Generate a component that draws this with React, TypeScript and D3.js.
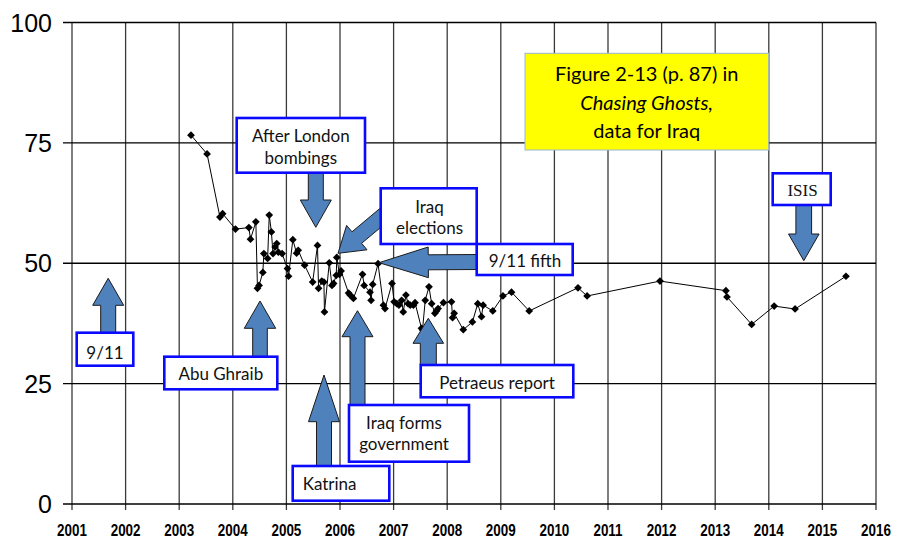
import React from "react";
import * as d3 from "d3";

// ---- data ----
const years = [
  2003.22, 2003.52, 2003.76, 2003.81, 2004.05, 2004.30, 2004.33, 2004.43, 2004.46, 2004.49,
  2004.56, 2004.58, 2004.65, 2004.68, 2004.72, 2004.75, 2004.79, 2004.82, 2004.85, 2004.92,
  2005.02, 2005.04, 2005.12, 2005.19, 2005.22, 2005.34, 2005.49, 2005.58, 2005.60, 2005.66,
  2005.70, 2005.71, 2005.80, 2005.85, 2005.88, 2005.93, 2005.94, 2005.99, 2006.02, 2006.16,
  2006.19, 2006.25, 2006.42, 2006.45, 2006.56, 2006.58, 2006.61, 2006.71, 2006.81, 2006.84,
  2006.97, 2007.01, 2007.06, 2007.10, 2007.15, 2007.18, 2007.23, 2007.27, 2007.31, 2007.37,
  2007.40, 2007.52, 2007.54, 2007.59, 2007.66, 2007.71, 2007.77, 2007.80, 2007.83, 2007.93,
  2008.08, 2008.10, 2008.13, 2008.30, 2008.47, 2008.57, 2008.64, 2008.67, 2008.85, 2009.04,
  2009.20, 2009.53, 2010.44, 2010.61, 2011.97, 2013.20, 2013.22, 2013.68, 2014.10, 2014.49,
  2015.44,
];
const values = [
  76.6, 72.7, 59.6, 60.3, 57.1, 57.4, 55.0, 58.6, 44.8, 45.4,
  48.1, 52.0, 51.0, 60.0, 56.5, 52.0, 53.4, 54.1, 52.3, 52.0,
  48.9, 47.3, 54.9, 52.1, 52.7, 49.6, 46.1, 53.7, 44.8, 46.3,
  46.1, 39.9, 50.1, 45.4, 45.8, 47.5, 51.2, 47.7, 48.4, 43.8,
  43.4, 42.7, 47.7, 45.4, 44.0, 42.3, 45.6, 49.9, 41.3, 40.6,
  45.8, 42.0, 41.6, 41.3, 42.3, 39.9, 43.4, 41.6, 41.3, 41.3,
  41.8, 36.5, 36.2, 42.3, 45.1, 41.6, 39.6, 40.1, 40.6, 41.8,
  42.0, 38.7, 39.6, 36.2, 37.8, 41.6, 38.9, 41.3, 40.1, 43.2,
  44.0, 40.1, 44.9, 43.2, 46.3, 44.3, 43.0, 37.3, 41.1, 40.5,
  47.3,
];
const xTicks = [2001, 2002, 2003, 2004, 2005, 2006, 2007, 2008, 2009, 2010, 2011, 2012, 2013, 2014, 2015, 2016];
const yTicks = [0, 25, 50, 75, 100];

const W = 898;
const H = 544;
const x = d3.scaleLinear().domain([2001, 2016]).range([72, 876]);
const y = d3.scaleLinear().domain([0, 100]).range([504, 22.5]);

const boxFont = "Lato, 'Open Sans', sans-serif";

function blockArrow(tx: number, ty: number, px: number, py: number, shaftW: number, headW: number, headL: number) {
  // tail (tx,ty) to tip (px,py)
  const dx = px - tx, dy = py - ty;
  const len = Math.hypot(dx, dy);
  const ux = dx / len, uy = dy / len;
  const nx = -uy, ny = ux;
  const bx = px - ux * headL, by = py - uy * headL;
  const pts = [
    [tx + nx * shaftW / 2, ty + ny * shaftW / 2],
    [bx + nx * shaftW / 2, by + ny * shaftW / 2],
    [bx + nx * headW / 2, by + ny * headW / 2],
    [px, py],
    [bx - nx * headW / 2, by - ny * headW / 2],
    [bx - nx * shaftW / 2, by - ny * shaftW / 2],
    [tx - nx * shaftW / 2, ty - ny * shaftW / 2],
  ];
  return "M" + pts.map((p) => p[0].toFixed(1) + "," + p[1].toFixed(1)).join("L") + "Z";
}

const arrows = [
  { t: [108.2, 333], p: [108.2, 278.3], s: 15, hw: 31, hl: 27 },
  { t: [260, 357], p: [260, 301], s: 14.6, hw: 31.4, hl: 27.3 },
  { t: [324, 466], p: [324, 375], s: 15, hw: 31, hl: 46.7 },
  { t: [357.5, 405], p: [357.5, 310.7], s: 15, hw: 31, hl: 26 },
  { t: [428.3, 365], p: [428.3, 318.3], s: 16, hw: 30.6, hl: 25 },
  { t: [315.8, 172], p: [315.8, 227.3], s: 15, hw: 31, hl: 27.3 },
  { t: [388, 211.5], p: [338, 253.3], s: 15, hw: 31.8, hl: 24.5 },
  { t: [477, 262], p: [379, 262.7], s: 15, hw: 30.7, hl: 49.3 },
  { t: [803.8, 205], p: [803.8, 260.7], s: 15.7, hw: 30.6, hl: 26.7 },
];

type Box = { x: number; y: number; w: number; h: number; lines: string[]; cx: number; cy: number[]; anchor?: string; serif?: boolean };
const boxes: Box[] = [
  { x: 76.7, y: 332.7, w: 56.6, h: 33, lines: ["9/11"], cx: 105, cy: [352] },
  { x: 164.3, y: 356.7, w: 113, h: 32.6, lines: ["Abu Ghraib"], cx: 220.8, cy: [373] },
  { x: 292.7, y: 466, w: 96.6, h: 34.7, lines: ["Katrina"], cx: 302.7, cy: [483.5], anchor: "start" },
  { x: 349, y: 405, w: 120, h: 56.7, lines: ["Iraq forms", "government"], cx: 404, cy: [422, 443.5] },
  { x: 420.7, y: 365, w: 152.6, h: 32.3, lines: ["Petraeus report"], cx: 497, cy: [382] },
  { x: 236.7, y: 118, w: 128.3, h: 54.7, lines: ["After London", "bombings"], cx: 300.8, cy: [135, 157] },
  { x: 380.7, y: 188.3, w: 96, h: 55.7, lines: ["Iraq", "elections"], cx: 429.5, cy: [206.7, 227.5] },
  { x: 476.7, y: 244, w: 96, h: 31, lines: ["9/11 fifth"], cx: 525, cy: [260] },
  { x: 772.7, y: 173.3, w: 58, h: 31.7, lines: ["ISIS"], cx: 802.5, cy: [190], serif: true },
];

export default function App() {
  const line = d3
    .line<number>()
    .x((_, i) => x(years[i]))
    .y((d) => y(d));
  const diamond = d3.symbol().type(d3.symbolSquare).size(30)();

  return (
    <svg
      width={W}
      height={H}
      viewBox={`0 0 ${W} ${H}`}
      style={{ position: "absolute", left: 0, top: 0, background: "#fff", display: "block" }}
    >
      <rect x={0} y={0} width={W} height={H} fill="#fff" />
      {/* vertical grid */}
      {xTicks.map((t) => (
        <line key={"v" + t} x1={x(t)} x2={x(t)} y1={y(100)} y2={y(0) + 6} stroke="#3a3a3a" strokeWidth={1.3} />
      ))}
      {/* horizontal grid */}
      {yTicks.map((t) => (
        <line key={"h" + t} x1={63} x2={x(2016)} y1={y(t)} y2={y(t)} stroke="#000" strokeWidth={1.3} />
      ))}
      {/* y labels */}
      {yTicks.map((t) => (
        <text
          key={"yl" + t}
          x={52}
          y={y(t)}
          dy="0.36em"
          textAnchor="end"
          fontFamily="'Liberation Sans', Arial, sans-serif"
          fontSize={25}
          fill="#000"
        >
          {t}
        </text>
      ))}
      {/* x labels */}
      {xTicks.map((t) => (
        <text
          key={"xl" + t}
          transform={`translate(${x(t)},536) scale(0.84,1)`}
          textAnchor="middle"
          fontFamily="'Liberation Sans', Arial, sans-serif"
          fontWeight="bold"
          fontSize={16}
          fill="#000"
        >
          {t}
        </text>
      ))}
      {/* data */}
      <path d={line(values) || ""} fill="none" stroke="#000" strokeWidth={1} />
      {values.map((v, i) => (
        <path key={"m" + i} d={diamond || ""} transform={`translate(${x(years[i])},${y(v)}) rotate(45)`} fill="#000" />
      ))}
      {/* yellow title box */}
      <rect x={525} y={53.3} width={243.7} height={96.7} fill="#ffff00" stroke="#9db3d1" strokeWidth={1} />
      <g fontFamily={boxFont} fontSize={20} fill="#000" textAnchor="middle">
        <text x={646.7} y={73.3} dominantBaseline="central">Figure 2-13 (p. 87) in</text>
        <text x={646.7} y={101.7} dominantBaseline="central" fontStyle="italic">Chasing Ghosts,</text>
        <text x={646.7} y={130} dominantBaseline="central">data for Iraq</text>
      </g>
      {/* arrows */}
      {arrows.map((a, i) => (
        <path
          key={"a" + i}
          d={blockArrow(a.t[0], a.t[1], a.p[0], a.p[1], a.s, a.hw, a.hl)}
          fill="#4f81bd"
          stroke="#1b1b1b"
          strokeWidth={1}
          strokeLinejoin="miter"
        />
      ))}
      {/* boxes */}
      {boxes.map((b, i) => (
        <g key={"b" + i}>
          <rect x={b.x} y={b.y} width={b.w} height={b.h} fill="#fff" stroke="#0a0aff" strokeWidth={2.6} />
          {b.lines.map((l, j) => (
            <text
              key={j}
              x={b.cx}
              y={b.cy[j]}
              dominantBaseline="central"
              textAnchor={b.anchor || "middle"}
              fontFamily={b.serif ? "'Liberation Serif', 'Times New Roman', serif" : boxFont}
              fontSize={b.serif ? 17 : 17}
              fill="#111"
            >
              {l}
            </text>
          ))}
        </g>
      ))}
    </svg>
  );
}
